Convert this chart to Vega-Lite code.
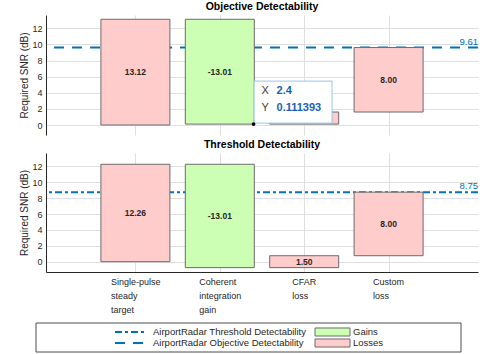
{
  "$schema": "https://vega.github.io/schema/vega-lite/v6.json",
  "background": "white",
  "padding": {"left": 19, "top": 1, "right": 5, "bottom": 0},
  "config": {
    "font": "Liberation Sans",
    "view": {"stroke": null},
    "title": {"font": "Liberation Sans", "fontSize": 10.5, "fontWeight": "bold", "color": "#000000", "offset": 3, "anchor": "middle"},
    "axis": {
      "domainColor": "#262626", "tickColor": "#262626", "labelColor": "#262626", "titleColor": "#262626",
      "gridColor": "#dfdfdf", "labelFont": "Liberation Sans", "titleFont": "Liberation Sans",
      "labelFontSize": 9, "titleFontSize": 10, "titleFontWeight": "normal", "domainWidth": 1, "tickWidth": 1
    },
    "axisY": {"values": [0, 2, 4, 6, 8, 10, 12], "tickCount": 7, "grid": true, "ticks": false, "labelPadding": 4, "titlePadding": 2, "labelOverlap": false}
  },
  "datasets": {
    "bars": [
      {"panel": "Objective", "pos": 1, "start": 0, "end": 13.12, "mid": 6.56, "label": "13.12", "kind": "Losses"},
      {"panel": "Objective", "pos": 2, "start": 13.12, "end": 0.111393, "mid": 6.6157, "label": "-13.01", "kind": "Gains"},
      {"panel": "Objective", "pos": 3, "start": 0.111393, "end": 1.611393, "mid": 0.8614, "label": "1.50", "kind": "Losses"},
      {"panel": "Objective", "pos": 4, "start": 1.611393, "end": 9.611393, "mid": 5.6114, "label": "8.00", "kind": "Losses"},
      {"panel": "Threshold", "pos": 1, "start": 0, "end": 12.26, "mid": 6.13, "label": "12.26", "kind": "Losses"},
      {"panel": "Threshold", "pos": 2, "start": 12.26, "end": -0.75, "mid": 5.755, "label": "-13.01", "kind": "Gains"},
      {"panel": "Threshold", "pos": 3, "start": -0.75, "end": 0.75, "mid": 0, "label": "1.50", "kind": "Losses"},
      {"panel": "Threshold", "pos": 4, "start": 0.75, "end": 8.75, "mid": 4.75, "label": "8.00", "kind": "Losses"}
    ],
    "lines": [
      {"panel": "Objective", "value": 9.611393, "label": "9.61", "series": "AirportRadar Objective Detectability"},
      {"panel": "Threshold", "value": 8.75, "label": "8.75", "series": "AirportRadar Threshold Detectability"}
    ],
    "tip": [
      {"tx": 2.4, "ty": 0.111393, "kx": "X", "vx": "2.4", "ky": "Y", "vy": "0.111393"}
    ],
    "legend": [
      {"entry": "AirportRadar Threshold Detectability", "series": "AirportRadar Threshold Detectability", "kind": "", "type": "line", "col": 0, "row": 0},
      {"entry": "AirportRadar Objective Detectability", "series": "AirportRadar Objective Detectability", "kind": "", "type": "line", "col": 0, "row": 1},
      {"entry": "Gains", "series": "", "kind": "Gains", "type": "patch", "col": 1, "row": 0},
      {"entry": "Losses", "series": "", "kind": "Losses", "type": "patch", "col": 1, "row": 1}
    ]
  },
  "spacing": 4,
  "vconcat": [
    {
      "width": 432,
      "height": 120,
      "title": "Objective Detectability",
      "encoding": {
        "x": {"field": "pos", "type": "quantitative", "scale": {"domain": [0, 5], "nice": false, "zero": false},
              "axis": {"values": [1, 2, 3, 4], "grid": true, "labels": false, "ticks": false, "domain": false, "title": null}}
      },
      "layer": [
        {
          "data": {"name": "lines"},
          "transform": [{"filter": "datum.panel == 'Objective'"}],
          "mark": {"type": "rule", "stroke": "#0072BD", "strokeWidth": 2},
          "encoding": {
            "x": null,
            "y": {"field": "value", "type": "quantitative", "scale": {"domain": [-1.24, 13.65], "nice": false, "zero": false},
                  "axis": {"title": "Required SNR (dB)"}},
            "strokeDash": {"field": "series", "type": "nominal", "legend": null,
              "scale": {"domain": ["AirportRadar Threshold Detectability", "AirportRadar Objective Detectability"], "range": [[7, 3, 3, 3], [10, 8]]}}
          }
        },
        {
          "data": {"name": "bars"},
          "transform": [{"filter": "datum.panel == 'Objective'"}],
          "mark": {"type": "bar", "orient": "vertical", "width": 69, "stroke": "#6b6b6b", "strokeWidth": 1},
          "encoding": {
            "y": {"field": "start", "type": "quantitative", "axis": {"title": "Required SNR (dB)"}},
            "y2": {"field": "end"},
            "fill": {"field": "kind", "type": "nominal", "legend": null,
              "scale": {"domain": ["Gains", "Losses"], "range": ["#ccffb3", "#ffcccc"]}}
          }
        },
        {
          "data": {"name": "bars"},
          "transform": [{"filter": "datum.panel == 'Objective'"}],
          "mark": {"type": "text", "fontSize": 8.5, "fontWeight": "bold", "color": "#262626", "baseline": "middle"},
          "encoding": {
            "y": {"field": "mid", "type": "quantitative", "axis": {"title": "Required SNR (dB)"}},
            "text": {"field": "label"}
          }
        },
        {
          "data": {"name": "lines"},
          "transform": [{"filter": "datum.panel == 'Objective'"}],
          "mark": {"type": "text", "fontSize": 9.5, "color": "#0072BD", "align": "right", "baseline": "bottom", "dy": -1},
          "encoding": {
            "x": {"value": "width"},
            "y": {"field": "value", "type": "quantitative", "axis": {"title": "Required SNR (dB)"}},
            "text": {"field": "label"}
          }
        },
        {
          "data": {"name": "tip"},
          "mark": {"type": "rect", "width": 78, "height": 42, "xOffset": 39.5, "yOffset": -22, "fill": "white", "stroke": "#9cc3ea", "strokeWidth": 1},
          "encoding": {
            "x": {"field": "tx", "type": "quantitative"},
            "y": {"field": "ty", "type": "quantitative", "axis": {"title": "Required SNR (dB)"}}
          }
        },
        {
          "data": {"name": "tip"},
          "mark": {"type": "point", "filled": true, "size": 14, "color": "#000000", "opacity": 1},
          "encoding": {
            "x": {"field": "tx", "type": "quantitative"},
            "y": {"field": "ty", "type": "quantitative", "axis": {"title": "Required SNR (dB)"}}
          }
        },
        {
          "data": {"name": "tip"},
          "mark": {"type": "text", "fontSize": 11, "color": "#404040", "align": "left", "baseline": "middle", "dx": 8, "dy": -33},
          "encoding": {
            "x": {"field": "tx", "type": "quantitative"},
            "y": {"field": "ty", "type": "quantitative", "axis": {"title": "Required SNR (dB)"}},
            "text": {"field": "kx"}
          }
        },
        {
          "data": {"name": "tip"},
          "mark": {"type": "text", "fontSize": 11, "color": "#404040", "align": "left", "baseline": "middle", "dx": 8, "dy": -16},
          "encoding": {
            "x": {"field": "tx", "type": "quantitative"},
            "y": {"field": "ty", "type": "quantitative", "axis": {"title": "Required SNR (dB)"}},
            "text": {"field": "ky"}
          }
        },
        {
          "data": {"name": "tip"},
          "mark": {"type": "text", "fontSize": 11, "fontWeight": "bold", "color": "#1a5fb4", "align": "left", "baseline": "middle", "dx": 23, "dy": -33},
          "encoding": {
            "x": {"field": "tx", "type": "quantitative"},
            "y": {"field": "ty", "type": "quantitative", "axis": {"title": "Required SNR (dB)"}},
            "text": {"field": "vx"}
          }
        },
        {
          "data": {"name": "tip"},
          "mark": {"type": "text", "fontSize": 11, "fontWeight": "bold", "color": "#1a5fb4", "align": "left", "baseline": "middle", "dx": 23, "dy": -16},
          "encoding": {
            "x": {"field": "tx", "type": "quantitative"},
            "y": {"field": "ty", "type": "quantitative", "axis": {"title": "Required SNR (dB)"}},
            "text": {"field": "vy"}
          }
        }
      ]
    },
    {
      "width": 432,
      "height": 119,
      "title": "Threshold Detectability",
      "encoding": {
        "x": {"field": "pos", "type": "quantitative", "scale": {"domain": [0, 5], "nice": false, "zero": false},
              "axis": {"values": [1, 2, 3, 4], "grid": true, "title": null, "domain": true, "ticks": false,
                "labelExpr": "datum.value == 1 ? ['Single-pulse', 'steady', 'target'] : datum.value == 2 ? ['Coherent', 'integration', 'gain'] : datum.value == 3 ? ['CFAR', 'loss'] : datum.value == 4 ? ['Custom', 'loss'] : ''",
                "labelAlign": "left",
                "labelOffset": {"expr": "datum.value == 1 ? -25 : datum.value == 2 ? -21 : datum.value == 3 ? -12.5 : -16"},
                "labelBaseline": "top", "labelPadding": 5, "labelLineHeight": 14, "labelOverlap": false, "labelBound": false, "labelFlush": false, "labelLimit": 0}}
      },
      "layer": [
        {
          "data": {"name": "lines"},
          "transform": [{"filter": "datum.panel == 'Threshold'"}],
          "mark": {"type": "rule", "stroke": "#0072BD", "strokeWidth": 2},
          "encoding": {
            "x": null,
            "y": {"field": "value", "type": "quantitative", "scale": {"domain": [-1.3, 13.68], "nice": false, "zero": false},
                  "axis": {"title": "Required SNR (dB)"}},
            "strokeDash": {"field": "series", "type": "nominal", "legend": null,
              "scale": {"domain": ["AirportRadar Threshold Detectability", "AirportRadar Objective Detectability"], "range": [[7, 3, 3, 3], [10, 8]]}}
          }
        },
        {
          "data": {"name": "bars"},
          "transform": [{"filter": "datum.panel == 'Threshold'"}],
          "mark": {"type": "bar", "orient": "vertical", "width": 69, "stroke": "#6b6b6b", "strokeWidth": 1},
          "encoding": {
            "y": {"field": "start", "type": "quantitative", "axis": {"title": "Required SNR (dB)"}},
            "y2": {"field": "end"},
            "fill": {"field": "kind", "type": "nominal", "legend": null,
              "scale": {"domain": ["Gains", "Losses"], "range": ["#ccffb3", "#ffcccc"]}}
          }
        },
        {
          "data": {"name": "bars"},
          "transform": [{"filter": "datum.panel == 'Threshold'"}],
          "mark": {"type": "text", "fontSize": 8.5, "fontWeight": "bold", "color": "#262626", "baseline": "middle"},
          "encoding": {
            "y": {"field": "mid", "type": "quantitative", "axis": {"title": "Required SNR (dB)"}},
            "text": {"field": "label"}
          }
        },
        {
          "data": {"name": "lines"},
          "transform": [{"filter": "datum.panel == 'Threshold'"}],
          "mark": {"type": "text", "fontSize": 9.5, "color": "#0072BD", "align": "right", "baseline": "bottom", "dy": -1},
          "encoding": {
            "x": {"value": "width"},
            "y": {"field": "value", "type": "quantitative", "axis": {"title": "Required SNR (dB)"}},
            "text": {"field": "label"}
          }
        }
      ]
    },
    {
      "width": 432,
      "height": 34,
      "data": {"name": "legend"},
      "encoding": {
        "x": {"field": "col", "type": "quantitative", "scale": {"domain": [-0.345, 1.815], "nice": false, "zero": false}, "axis": null},
        "y": {"field": "row", "type": "quantitative", "scale": {"domain": [-1.273, 1.818], "nice": false, "zero": false, "reverse": true}, "axis": null}
      },
      "layer": [
        {
          "transform": [{"filter": "datum.col == 0 && datum.row == 0"}],
          "mark": {"type": "rect", "fill": "white", "stroke": "#4d4d4d", "strokeWidth": 1},
          "encoding": {
            "x": {"datum": -0.395},
            "x2": {"datum": 1.73},
            "y": {"datum": -0.818},
            "y2": {"datum": 1.818}
          }
        },
        {
          "transform": [{"filter": "datum.type == 'line'"}],
          "mark": {"type": "point", "shape": "stroke", "size": 1024, "filled": false, "stroke": "#0072BD", "strokeWidth": 2, "xOffset": 16, "opacity": 1},
          "encoding": {
            "strokeDash": {"field": "series", "type": "nominal", "legend": null,
              "scale": {"domain": ["AirportRadar Threshold Detectability", "AirportRadar Objective Detectability"], "range": [[7, 3, 3, 3], [10, 8]]}}
          }
        },
        {
          "transform": [{"filter": "datum.type == 'patch'"}],
          "mark": {"type": "point", "shape": "M-1,-0.23H1V0.23H-1Z", "size": 1225, "filled": true, "stroke": "#6b6b6b", "strokeWidth": 1, "xOffset": 17.5, "opacity": 1},
          "encoding": {
            "fill": {"field": "kind", "type": "nominal", "legend": null,
              "scale": {"domain": ["Gains", "Losses"], "range": ["#ccffb3", "#ffcccc"]}}
          }
        },
        {
          "mark": {"type": "text", "fontSize": 9.5, "color": "#262626", "align": "left", "baseline": "middle", "dx": 38},
          "encoding": {
            "text": {"field": "entry"}
          }
        }
      ]
    }
  ]
}
